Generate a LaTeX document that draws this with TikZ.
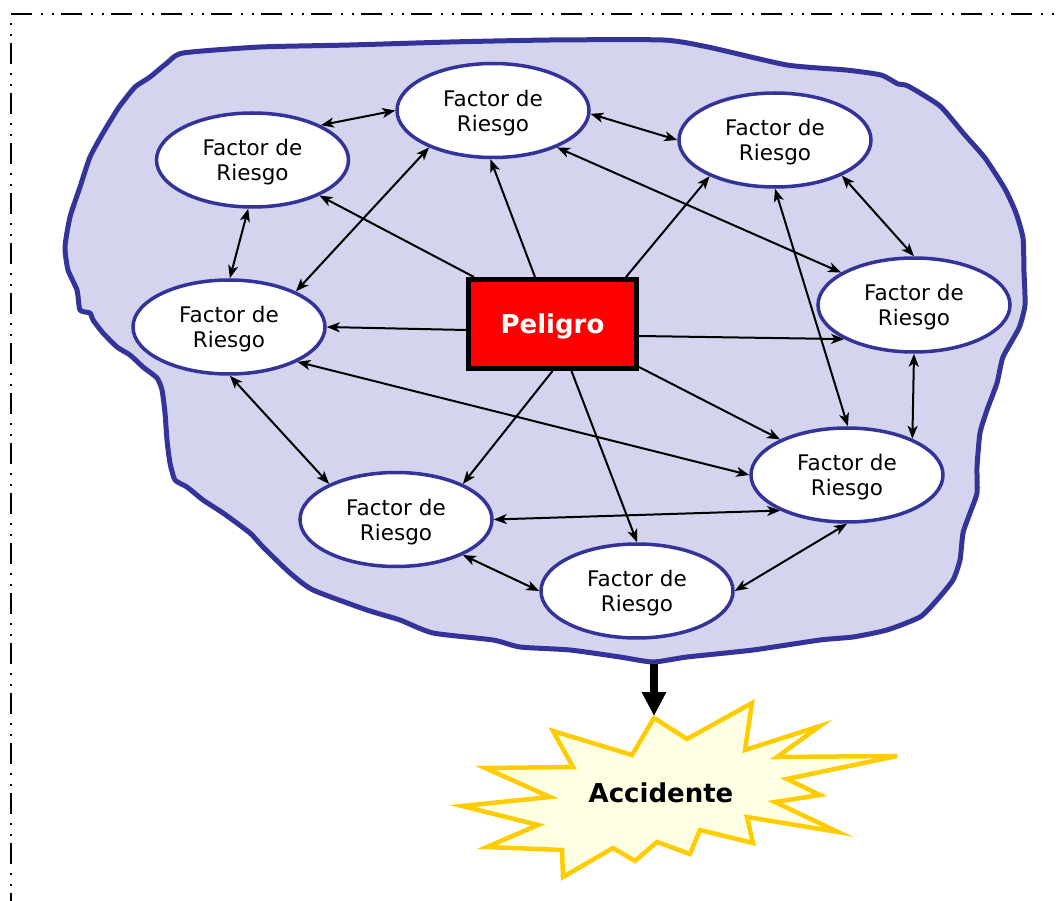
\documentclass[tikz,border=0pt]{standalone}
\usepackage{fontspec}
\setmainfont{DejaVu Sans}
\usetikzlibrary{arrows.meta,shapes.geometric,calc}
\definecolor{navy}{RGB}{51,51,153}
\definecolor{blobfill}{RGB}{212,212,238}
\definecolor{gold}{RGB}{255,204,0}
\definecolor{starfill}{RGB}{255,255,228}
\definecolor{hazard}{RGB}{255,0,0}
\begin{document}
\begin{tikzpicture}[x=1pt,y=-1pt,
  factor/.style={ellipse, draw=navy, line width=3.5pt, fill=white,
    minimum width=192pt, minimum height=94pt, inner sep=0pt,
    align=center, text depth=0pt, font=\fontsize{21.5}{25}\selectfont},
  tipstyle/.tip={Stealth[length=13pt,width=10pt,inset=3.5pt]},
  link/.style={line width=2pt, -tipstyle},
  dlink/.style={line width=2pt, tipstyle-tipstyle},
  frameline/.style={line width=2.8pt, dash pattern=on 21pt off 9pt on 2pt off 9pt on 2pt off 7pt}
]
\useasboundingbox (0,0) rectangle (1061,901);

% dash-dot-dot frame along top and left
\draw[frameline] (11,14) -- (1070,14);
\draw[frameline, dash phase=21pt] (11,14) -- (11,910);

% hazard cloud
\draw[line width=5pt, draw=navy, fill=blobfill, line join=round]
  plot[smooth cycle, tension=0.35] coordinates {
  (183,53) (260,47) (350,45) (450,42) (550,40) (663,40) (708,47) (787,65)
  (846,70) (881,75) (898,84) (908,86) (940,106) (964,134) (985,158)
  (1005,189) (1016,213) (1023,238) (1024,272) (1025,305) (1019,328)
  (1003,357) (997,383) (987,410) (980,433) (977,467) (977,493) (970,513)
  (963,533) (960,560) (953,580) (937,600) (920,617) (887,630) (853,637)
  (820,640) (753,650) (687,657) (653,662) (620,657) (570,650) (520,647)
  (493,640) (433,633) (400,620) (367,610) (313,590) (290,573) (263,547)
  (250,533) (223,513) (203,500) (187,487) (175,480) (170,463) (167,440)
  (165,413) (162,390) (157,378) (143,367) (130,355) (117,347) (103,333)
  (93,320) (90,313) (80,310) (77,290) (68,270) (65,247) (70,217) (80,187)
  (90,157) (103,133) (117,110) (122,103) (135,87) (150,77) (167,63)};
\coordinate (cloudtip) at (654,664);

% risk factors
\node[factor] (e1) at (252.5,160) {Factor de\\Riesgo};
\node[factor] (e2) at (493,110.5) {Factor de\\Riesgo};
\node[factor] (e3) at (775,140) {Factor de\\Riesgo};
\node[factor] (e4) at (229,327) {Factor de\\Riesgo};
\node[factor] (e5) at (914,305) {Factor de\\Riesgo};
\node[factor] (e6) at (847,475) {Factor de\\Riesgo};
\node[factor] (e7) at (396,519.5) {Factor de\\Riesgo};
\node[factor] (e8) at (637,591) {Factor de\\Riesgo};

% hazard
\node[draw=black, line width=5pt, fill=hazard, minimum width=168pt,
  minimum height=89pt, inner sep=0pt, text=white, text height=19pt, text depth=0pt,
  font=\fontsize{26}{30}\selectfont\bfseries] (pel) at (552.5,324) {Peligro};

% hazard to factors
\draw[link] ($(pel.north west)+(8,0)$) -- (e1.-28);
\draw[link] ($(pel.north west)+(69,0)$) -- (e2.-93);
\draw[link] ($(pel.north east)+(-13,0)$) -- (e3.-151);
\draw[link] ($(pel.west)+(0,6)$) -- (e4.0);
\draw[link] ($(pel.east)+(0,12)$) -- (e5.-154);
\draw[link] ($(pel.south east)+(0,-4)$) -- (e6.152);
\draw[link] (pel.south) -- (e7.28);
\draw[link] ($(pel.south)+(19,0)$) -- (e8.90);

% links between factors
\draw[dlink] (e1.27) -- (e2.180);
\draw[dlink] (e2.-2) -- (e3.180);
\draw[dlink] (e1.-95) -- (e4.89);
\draw[dlink] (e2.-150) -- (e4.28);
\draw[dlink] (e2.-30) -- (e5.156);
\draw[dlink] (e3.-28) -- (e5.90);
\draw[dlink] (e3.-90) -- (e6.89);
\draw[dlink] (e5.-90) -- (e6.29);
\draw[dlink] (e4.-27) -- (e6.180);
\draw[dlink] (e4.-89) -- (e7.152);
\draw[dlink] (e7.0) -- (e6.-152);
\draw[dlink] (e7.-28) -- (e8.180);
\draw[dlink] (e8.0) -- (e6.-90);

% accident burst
\draw[gold, line width=4.5pt, fill=starfill, line join=miter]
  (654,718) -- (687,739) -- (752,703) -- (745,750) -- (820,726) -- (777,757)
  -- (897,756) -- (787,779) -- (820,795) -- (775,802) -- (838,832) -- (747,817)
  -- (753,843) -- (700,830) -- (690,854) -- (657,842) -- (635,861) -- (613,848)
  -- (563,877) -- (562,850) -- (487,847) -- (538,825) -- (462,806) -- (550,797)
  -- (485,768) -- (573,767) -- (553,731) -- (632,755) -- cycle;
\coordinate (bursttop) at (654,716);
\node[font=\fontsize{26}{30}\selectfont\bfseries, text depth=0pt] (acc) at (661,793) {Accidente};

\draw[line width=8pt, -{Triangle[length=24pt,width=23pt]}] (cloudtip) -- (bursttop);
\end{tikzpicture}
\end{document}
